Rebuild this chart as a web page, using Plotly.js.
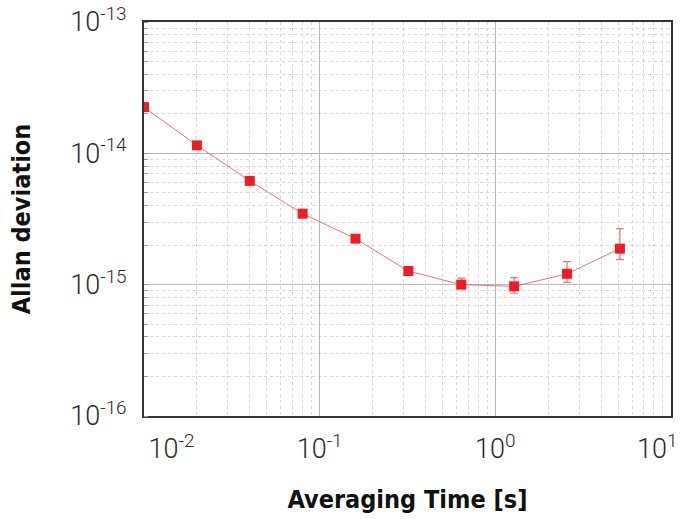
<!DOCTYPE html>
<html>
<head>
<meta charset="utf-8">
<script src="https://cdn.plot.ly/plotly-3.0.1.min.js"></script>
<style>html,body{margin:0;padding:0;background:#fff;}#chart{width:681px;height:519px;}</style>
</head>
<body>
<div id="chart"></div>
<script>
// Averaging time tau [s]
const tau = [0.01, 0.02, 0.04, 0.08, 0.16, 0.32, 0.64, 1.28, 2.56, 5.12];
// Allan deviation
const adev = [2.25e-14, 1.15e-14, 6.17e-15, 3.47e-15, 2.24e-15, 1.27e-15, 1.00e-15, 0.97e-15, 1.21e-15, 1.88e-15];
// error bars (upper / lower extents)
const errPlus  = [0, 0, 0, 0, 0, 0.03e-15, 0.12e-15, 0.16e-15, 0.29e-15, 0.79e-15];
const errMinus = [0, 0, 0, 0, 0, 0.02e-15, 0.04e-15, 0.11e-15, 0.17e-15, 0.33e-15];

const xTickVals = [0.01, 0.1, 1, 10];
const xTickText = ['\u2003\u200310<sup>-2</sup>', '10<sup>-1</sup>', '10<sup>0</sup>', '10<sup>1</sup>\u2003'];
const yTickVals = [1e-16, 1e-15, 1e-14, 1e-13];
const yTickText = ['10<sup>-16</sup>', '10<sup>-15</sup>', '10<sup>-14</sup>', '10<sup>-13</sup>'];

const TICKFONT = 'Roboto, "Liberation Sans", Arial, sans-serif';
const TITLEFONT = '"DejaVu Sans Condensed", "DejaVu Sans", sans-serif';

const trace = {
  x: tau, y: adev, type: 'scatter', mode: 'lines+markers',
  line: {color: '#f07070', width: 1},
  marker: {symbol: 'square', size: 10, color: '#ee1c25'},
  error_y: {type: 'data', symmetric: false, array: errPlus, arrayminus: errMinus,
            color: '#f07070', thickness: 1.2, width: 4},
  cliponaxis: true
};

const axisCommon = {
  type: 'log', tickmode: 'array',
  showline: true, mirror: true, linecolor: '#333', linewidth: 2,
  showgrid: true, gridcolor: '#b8b8b8', gridwidth: 1,
  ticks: '', zeroline: false, ticklabeloverflow: 'allow',
  tickfont: {family: TICKFONT, size: 27, color: '#2a2a2a', weight: 300}
};

const layout = {
  width: 681, height: 519,
  margin: {l: 144, r: 10, t: 22, b: 103},
  paper_bgcolor: '#fff', plot_bgcolor: '#fff',
  showlegend: false,
  xaxis: Object.assign({}, axisCommon, {
    range: [-2, 1], tickvals: xTickVals, ticktext: xTickText,
    ticklabelstandoff: 8,
    minor: {dtick: 'D1', showgrid: true, gridcolor: '#d6d6d6', griddash: 'dot', gridwidth: 1, ticks: ''},
    title: {text: 'Averaging Time [s]', font: {family: TITLEFONT, size: 25, color: '#111', weight: 'bold'}, standoff: 26}
  }),
  yaxis: Object.assign({}, axisCommon, {
    range: [-16, -13], tickvals: yTickVals, ticktext: yTickText,
    ticklabelstandoff: 10,
    minor: {dtick: 'D1', showgrid: true, gridcolor: '#d6d6d6', griddash: 'dot', gridwidth: 1,
            ticks: 'inside', ticklen: 4, tickcolor: '#999', tickwidth: 1},
    title: {text: 'Allan deviation', font: {family: TITLEFONT, size: 25, color: '#111', weight: 'bold'}, standoff: 33}
  })
};

Plotly.newPlot('chart', [trace], layout, {displayModeBar: false, staticPlot: true});
</script>
</body>
</html>
